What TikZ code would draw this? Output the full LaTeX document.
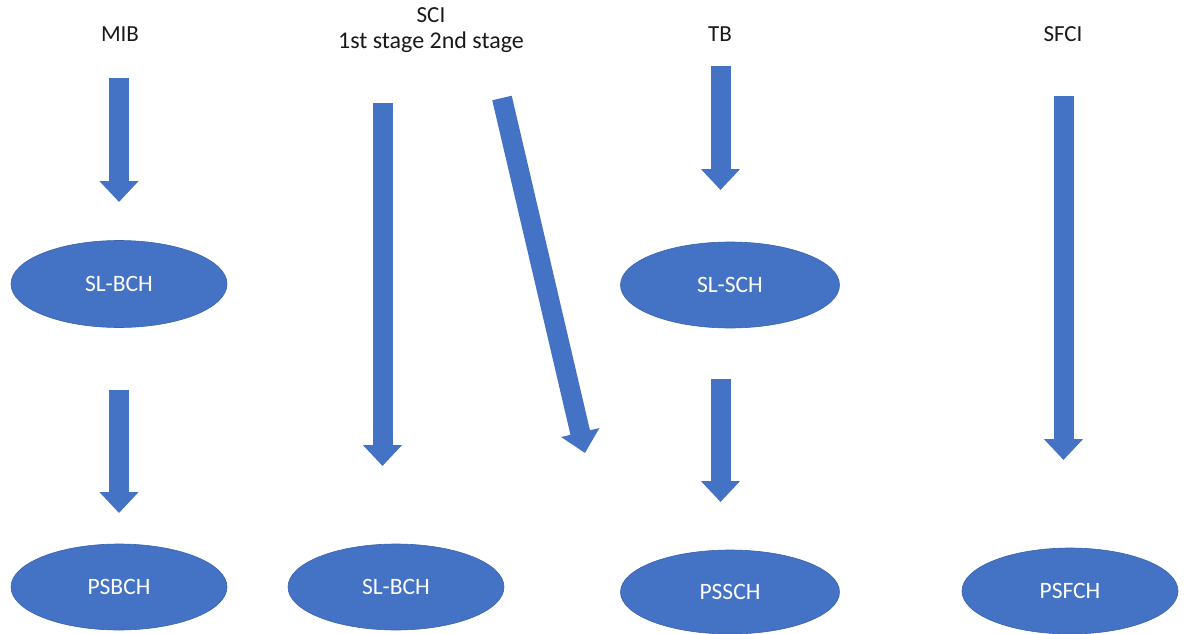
\documentclass[tikz,border=0pt]{standalone}
\usepackage{fontspec}
\setmainfont{Carlito}
\usetikzlibrary{arrows.meta,shapes.geometric}
\definecolor{blockblue}{HTML}{4472C4}
\definecolor{edgeblue}{HTML}{3A63AE}
\begin{document}
\begin{tikzpicture}[x=1pt,y=-1pt,
  chan/.style={ellipse, fill=blockblue, draw=edgeblue, line width=0.6pt,
    inner sep=0pt, text=white, font=\fontsize{23.5}{27}\selectfont},
  toptext/.style={inner sep=0pt, align=center, anchor=base, text=black!90,
    font=\fontsize{23}{26}\selectfont},
  flow/.style={draw=blockblue, line width=20pt, line cap=butt,
    -{Triangle[width=38pt,length=21pt]}}
]
\useasboundingbox (0,0) rectangle (1184,634);

% column headings (placed by the baseline of their last line)
\node[toptext] (mib)  at (120,42)  {MIB};
\node[toptext] (sci)  at (431,49)  {SCI\\{\fontsize{24}{26}\selectfont 1st stage 2nd stage}};
\node[toptext] (tb)   at (720,42)  {TB};
\node[toptext] (sfci) at (1063,42) {SFCI};

% channels
\node[chan, minimum width=216pt, minimum height=87pt] (slbch)  at (119,284) {SL-BCH};
\node[chan, minimum width=216pt, minimum height=86pt] (psbch)  at (119,587) {PSBCH};
\node[chan, minimum width=216pt, minimum height=86pt] (slbchb) at (396,587) {SL-BCH};
\node[chan, minimum width=219pt, minimum height=86pt] (slsch)  at (730,285) {SL-SCH};
\node[chan, minimum width=219pt, minimum height=84pt] (pssch)  at (730,592) {PSSCH};
\node[chan, minimum width=216pt, minimum height=86pt] (psfch)  at (1070,591) {PSFCH};

% arrow end points
\coordinate (m1s) at (119,78);    \coordinate (m1e) at (119,202);
\coordinate (m2s) at (119,390);   \coordinate (m2e) at (119,513);
\coordinate (s1s) at (382.5,103); \coordinate (s1e) at (382.5,466);
\coordinate (s2s) at (502,98);    \coordinate (s2e) at (585,453);
\coordinate (t1s) at (720.5,66);  \coordinate (t1e) at (720.5,190);
\coordinate (t2s) at (720.5,379); \coordinate (t2e) at (720.5,502);
\coordinate (f1s) at (1063.5,96); \coordinate (f1e) at (1063.5,460);

% block arrows
\draw[flow] (m1s) -- (m1e);
\draw[flow] (m2s) -- (m2e);
\draw[flow] (s1s) -- (s1e);
\draw[flow] (s2s) -- (s2e);
\draw[flow] (t1s) -- (t1e);
\draw[flow] (t2s) -- (t2e);
\draw[flow] (f1s) -- (f1e);
\end{tikzpicture}
\end{document}
